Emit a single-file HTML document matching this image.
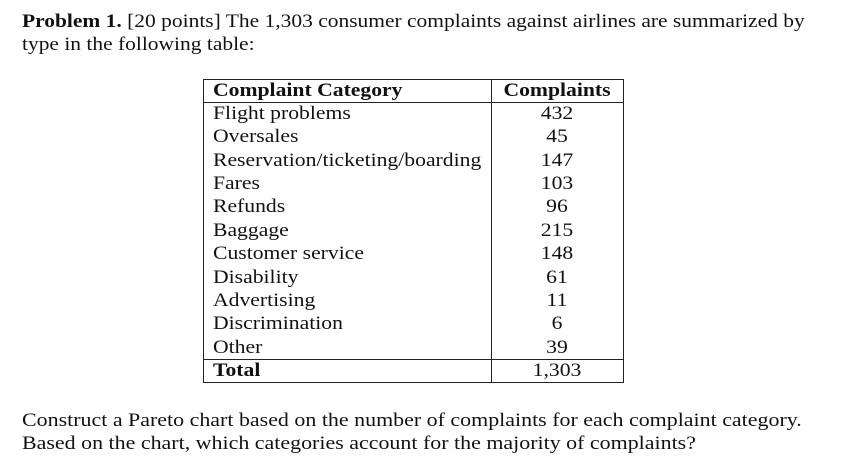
<!DOCTYPE html>
<html><head><meta charset="utf-8"><style>
body{margin:0;width:858px;height:466px;background:#fff;font-family:"Liberation Serif",serif;color:#111;position:relative;overflow:hidden}
.t{position:absolute;font-size:19px;white-space:nowrap;line-height:23px;transform:scaleX(1.14);transform-origin:left center}
.ln{position:absolute;background:#222}
.c1{left:213px}
.c2{left:491px;width:132px;text-align:center;transform-origin:center center}
</style></head><body>
<div class="t" style="left:22px;top:10px;transform:scaleX(1.13)"><b>Problem 1.</b> [20 points] The 1,303 consumer complaints against airlines are summarized by</div>
<div class="t" style="left:22px;top:33px;transform:scaleX(1.13)">type in the following table:</div>
<div>
<div class="ln" style="left:203px;top:79px;width:421px;height:1px"></div>
<div class="ln" style="left:203px;top:102px;width:421px;height:1px"></div>
<div class="ln" style="left:203px;top:359px;width:421px;height:1px"></div>
<div class="ln" style="left:203px;top:382px;width:421px;height:1px"></div>
<div class="ln" style="left:203px;top:79px;width:1px;height:304px"></div>
<div class="ln" style="left:491px;top:79px;width:1px;height:304px"></div>
<div class="ln" style="left:623px;top:79px;width:1px;height:304px"></div>
<div id="rows"></div>
</div>
<div class="t" style="left:22px;top:409px;transform:scaleX(1.155)">Construct a Pareto chart based on the number of complaints for each complaint category.</div>
<div class="t" style="left:22px;top:432px;transform:scaleX(1.155)">Based on the chart, which categories account for the majority of complaints?</div>
<script>
const categories=["Flight problems","Oversales","Reservation/ticketing/boarding","Fares","Refunds","Baggage","Customer service","Disability","Advertising","Discrimination","Other"];
const values=["432","45","147","103","96","215","148","61","11","6","39"];
const r=document.getElementById('rows');
function cell(txt,cls,top,bold,name){const d=document.createElement('div');d.className='t '+cls;d.style.top=top+'px';d.textContent=txt;if(bold)d.style.fontWeight='bold';


r.appendChild(d);}
cell("Complaint Category","c1",79,true,"header-category");
cell("Complaints","c2",79,true,"header-complaints");
const rh=257/11;
categories.forEach((c,i)=>{const y=102+i*rh;cell(c,"c1",y,false,"category-cell");cell(values[i],"c2",y,false,"value-cell");});
cell("Total","c1",359,true,"total-label");
cell("1,303","c2",359,false,"total-value");
</script>
</body></html>
